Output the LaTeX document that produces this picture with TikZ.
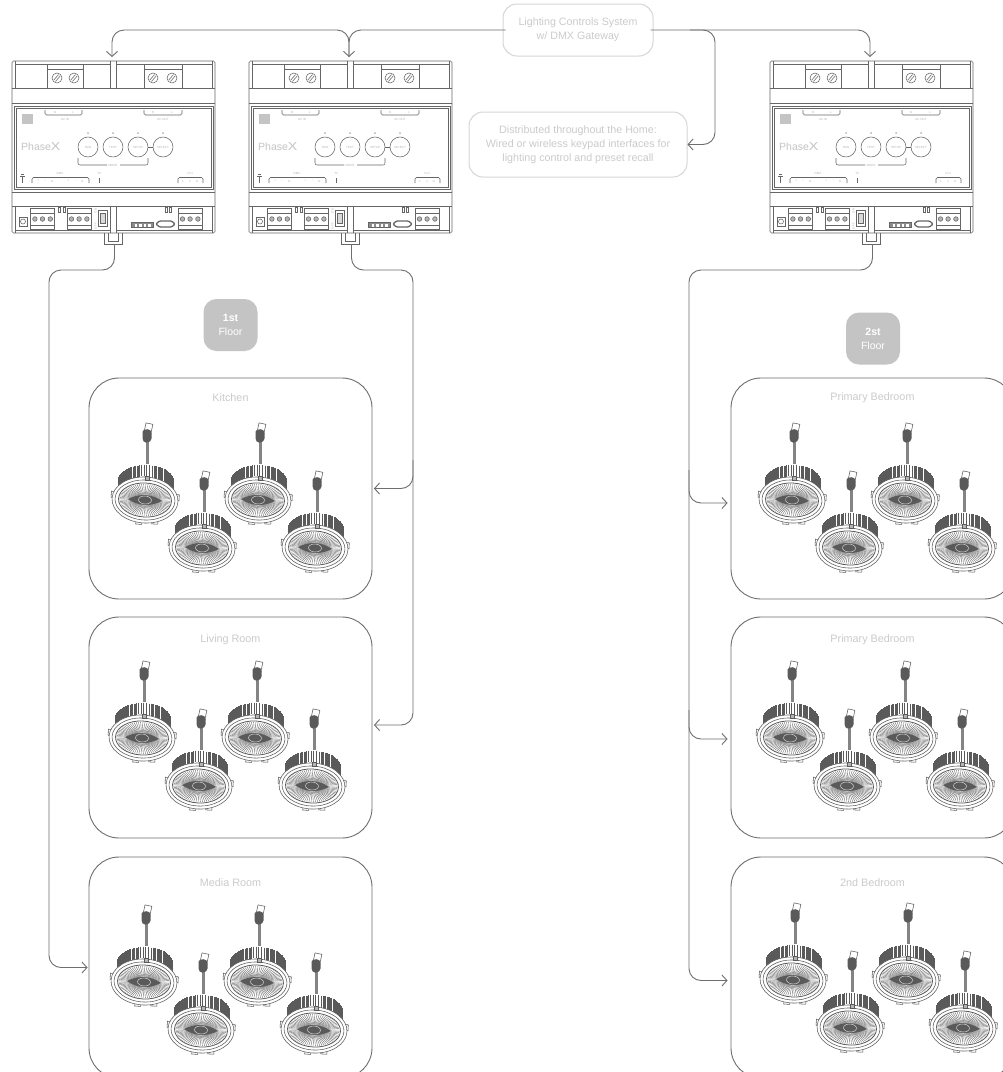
\documentclass[tikz,border=0pt]{standalone}
\usepackage{fontspec}
\setmainfont{Liberation Sans}
\usepackage{tikz}
\usetikzlibrary{positioning, arrows.meta, calc}
\definecolor{wirecol}{HTML}{6E6E6E}
\definecolor{paletxt}{HTML}{CBCBCB}
\definecolor{palebox}{HTML}{D6D6D6}
\definecolor{badgecol}{HTML}{C4C4C4}
\definecolor{devcol}{HTML}{666666}
\definecolor{devtxtcol}{HTML}{B4B4B4}
\definecolor{lampcol}{HTML}{5A5A5A}
\tikzset{
  wire/.style={draw=wirecol, line width=0.9pt, rounded corners=12pt},
  tipwire/.style={wire, -{Straight Barb[length=5pt, width=11pt]}},
  callout/.style={draw=palebox, line width=1pt, rounded corners=14pt, align=center, text=paletxt,
    font=\fontsize{10.7}{14}\selectfont, inner sep=0pt},
  roombox/.style={draw=wirecol, line width=0.9pt, rounded corners=30pt, minimum width=283pt,
    minimum height=221pt, inner sep=0pt},
  roomname/.style={text=paletxt, font=\fontsize{10.8}{12}\selectfont, inner sep=0pt},
  badge/.style={fill=badgecol, rounded corners=13pt, minimum width=54pt, minimum height=52pt,
    align=center, text=white, font=\fontsize{10.5}{14}\selectfont, inner sep=0pt},
  devline/.style={draw=devcol, line width=0.55pt},
  devtxt/.style={text=devtxtcol, font=\fontsize{3}{3}\selectfont, inner sep=0pt},
  lampline/.style={draw=lampcol, line width=0.55pt},
  pics/dimmer/.style={code={
    % housing
    \draw[devline, rounded corners=1.5pt] (0,0) rectangle (203,172);
    \draw[devline] (3,0) -- (3,27) (200,0) -- (200,27) (0,27) -- (203,27) (0,42) -- (203,42);
    \draw[devline] (98,0) -- (98,27) (104,0) -- (104,27) (0,131) -- (203,131) (0,145) -- (203,145);
    \draw[devline] (98,145) -- (98,172) (104,145) -- (104,172) (3,145) -- (3,172) (200,145) -- (200,172);
    \draw[devline] (3,3) -- (98,3) (104,3) -- (200,3) (3,169) -- (98,169) (104,169) -- (200,169);
    % top terminals
    \draw[devline] (35,3) -- (35,27) (71,3) -- (71,27) (132,3) -- (132,27) (170,3) -- (170,27);
    \draw[devline] (35,8) -- (71,8) (132,8) -- (170,8);
    \foreach \sx in {45,62,141,160} {
      \draw[devline] (\sx,17) circle (5pt);
      \draw[devline] (\sx-3.2,19) -- (\sx+1.5,13.6) (\sx-1.5,20.4) -- (\sx+3.2,15);
    }
    % front panel
    \draw[devline, line width=0.8pt] (2,45) rectangle (201,128);
    \draw[devline] (4,47) rectangle (199,126);
    \fill[badgecol] (10,53) rectangle (21,63);
    \node[text=badgecol, inner sep=0pt, font=\fontsize{10.5}{12}\selectfont, anchor=west] (-brand) at (9,86) {Phase\scalebox{1.35}[1.1]{X}};
    \draw[devline, rounded corners=1.5pt] (33,49) -- (33,54) -- (70,54) -- (70,49);
    \draw[devline, rounded corners=1.5pt] (132,49) -- (132,54) -- (170,54) -- (170,49);
    \node[devtxt] (-acin) at (53,58) {AC IN};
    \node[devtxt] (-acout) at (151,58) {AC OUT};
    \node[devtxt] (-n1) at (43,51) {N};
    \node[devtxt] (-l1) at (61,51) {L};
    \node[devtxt] (-n2) at (141,51) {N};
    \node[devtxt] (-l2) at (160,51) {L};
    \foreach \bx/\bname in {76/RUN,101/TEST,126/SETUP,151/SELECT} {
      \node[draw=devcol, line width=0.55pt, circle, minimum size=20pt, inner sep=0pt, text=devtxtcol,
        font=\fontsize{3}{3}\selectfont] (-\bname) at (\bx,86) {\bname};
      \fill[devtxtcol] (\bx,72) circle (1pt);
    }
    \draw[devline] (-SETUP) -- (-SELECT);
    \draw[devline, rounded corners=2pt] (66,97) -- (66,104) -- (95,104) (108,104) -- (136,104) -- (136,97);
    \node[devtxt] (-mode) at (101,104.5) {MODE};
    \draw[devcol, line width=1pt] (10.7,115) -- (10.7,122);
    \draw[devline] (8,115) -- (13.4,115) (9,113.5) -- (12.4,113.5);
    \draw[devline, rounded corners=1.5pt] (20,122) -- (20,116.5) -- (77,116.5) -- (77,122);
    \draw[devline, rounded corners=1.5pt] (166,122) -- (166,116.5) -- (191,116.5) -- (191,122);
    \node[devtxt] (-dmx) at (48,112) {DMX};
    \node[devtxt] (-tx) at (87.3,112) {TX};
    \node[devtxt] (-cci) at (178,112) {CCI};
    \draw[devline] (87.3,117) -- (87.3,122);
    \foreach \tx/\tname [count=\ti] in {26.3/+,33/−,40.3/G,56.3/+,63.7/−,70.3/G,171/1,178/2,185/G}
      \node[devtxt] (-pin\ti) at (\tx,120) {\tname};
    % bottom terminals
    \draw[devline] (7,156) rectangle (15,165);
    \draw[devline] (11,160.5) circle (2.5pt);
    \foreach \tx in {18.7,55.3,166.3} {
      \draw[devline] (\tx,147.5) rectangle (\tx+24,168);
      \draw[devline] (\tx,164) -- (\tx+24,164) (\tx,152) -- (\tx+24,152);
      \foreach \dx in {4.2,11.8,19.6}
        \draw[devline, fill=devtxtcol] (\tx+\dx,158) circle (2.3pt);
    }
    \foreach \sx in {46,51,153,157.5}
      \draw[devline] (\sx,146.5) rectangle (\sx+2.2,151.5);
    \draw[devline] (86.7,149.7) rectangle (95.3,165);
    \draw[devline, fill=devtxtcol!50] (88.7,152.5) rectangle (93.3,162);
    \node[devtxt, rotate=90] (-on) at (83.7,150) {ON};
    \node[devtxt, rotate=90] (-off) at (83.7,165) {OFF};
    \draw[devline, fill=devcol!75] (119.7,161.3) rectangle (141.3,166.7);
    \foreach \dx in {122.5,127,131.5,136}
      \fill[white] (\dx,162.5) rectangle (\dx+2.5,165.5);
    \draw[devcol, line width=1.3pt, rounded corners=1pt] (147.5,160) -- (159.5,160) -- (163,163) -- (159.5,166) -- (147.5,166) -- (144,163) -- cycle;
    % port under the housing
    \draw[devline] (92,172) -- (92,183) -- (110.7,183) -- (110.7,172);
    \draw[devline] (96.3,172) -- (96.3,180) -- (106.3,180) -- (106.3,172);
    \coordinate (-top) at (100,-4);
    \coordinate (-port) at (102.5,183);
  }},
  pics/lamp/.style={code={
    % cable and plug
    \draw[wirecol!85, line width=2.4pt] (2.3,-58) -- (2.3,-32);
    \draw[lampline, fill=white, rotate around={-12:(3.5,-72)}] (0,-76.5) rectangle (7,-66);
    \fill[lampcol, rounded corners=1.5pt] (-2.4,-70) -- (4,-71) -- (6.7,-68) -- (6.5,-60) -- (3.5,-57.5) -- (-0.5,-57.5) -- (-2.4,-60) -- cycle;
    % heat sink
    \begin{scope}[shift={(0.5,-20)}]
      \foreach \a in {180,183,...,360}
        \draw[lampcol, line width=0.65pt] (\a:27.5 and 15) -- ++(0,15);
      \fill[white] (-5,-16) rectangle (6,2);
      \foreach \fx in {-4,-1.5,1,3.5}
        \draw[lampcol, line width=0.4pt] (\fx,-15.5) -- (\fx,-4);
    \end{scope}
    \begin{scope}[rotate=-3]
      % ring
      \draw[lampline, fill=white] (-34,-7) rectangle (-29,-1);
      \draw[lampline, fill=white] (29,-7) rectangle (34,-1);
      \draw[lampline, fill=white] (-8,19) rectangle (-2,24.5);
      \draw[lampline, fill=white] (8,18) rectangle (14,23.5);
      \draw[lampline, fill=white] (0,0) ellipse [x radius=33, y radius=23];
      \draw[lampline] (0,0) ellipse [x radius=30, y radius=20];
      \draw[lampline, line width=0.8pt] (0,0) ellipse [x radius=26.5, y radius=17];
      \foreach \a in {0,5,...,355}
        \draw[wirecol, line width=0.4pt] (\a:25.5 and 16) -- (\a:5 and 3);
      \fill[lampcol] (-17,0) .. controls (-7,-6.5) and (7,-6.5) .. (17,0) .. controls (7,6.5) and (-7,6.5) .. (-17,0);
      \draw[white!75!lampcol, line width=0.5pt] (0,0) ellipse [x radius=6.5, y radius=4];
    \end{scope}
    \draw[lampline, fill=devtxtcol] (0,-24) rectangle (4.6,-20);
  }}
}
\begin{document}
\begin{tikzpicture}[x=1pt, y=-1pt]
\useasboundingbox (0,0) rectangle (1003,1072);
\clip (0,0) rectangle (1003,1072);
\fill[white] (0,0) rectangle (1003,1072);

% controllers
\pic (dimA) at (12,61) {dimmer};
\pic (dimB) at (249,61) {dimmer};
\pic (dimC) at (770,61) {dimmer};

% callouts
\node[callout, minimum width=150pt, minimum height=52pt] (ctrl) at (578,30) {Lighting Controls System\\w/ DMX Gateway};
\node[callout, minimum width=218pt, minimum height=65pt] (keypad) at (578,144.5) {Distributed throughout the Home:\\Wired or wireless keypad interfaces for\\lighting control and preset recall};

% floor badges
\node[badge] (floorA) at (230.5,325) {\textbf{1st}\\Floor};
\node[badge] (floorB) at (873,338.5) {\textbf{2st}\\Floor};

% rooms
\node[roombox] (kitchen) at (230.5,488.5) {};
\node[roombox] (living) at (230.5,727.5) {};
\node[roombox] (media) at (230.5,967.5) {};
\node[roombox] (primA) at (872.5,488.5) {};
\node[roombox] (primB) at (872.5,727.5) {};
\node[roombox] (bedB) at (872.5,967.5) {};
\node[roomname] (kitchenname) at (230.5,398) {Kitchen};
\node[roomname] (livingname) at (230.5,640) {Living Room};
\node[roomname] (medianame) at (230.5,883) {Media Room};
\node[roomname] (primAname) at (872.5,398) {Primary Bedroom};
\node[roomname] (primBname) at (872.5,640) {Primary Bedroom};
\node[roomname] (bedBname) at (872.5,883) {2nd Bedroom};

% fixtures
\foreach \bx/\by in {145/500, 142/738, 144/982, 792/500, 790/738, 793/980} {
  \begin{scope}[shift={(\bx,\by)}]
    \pic at (0,0) {lamp};
    \pic at (57,48) {lamp};
    \pic at (113,0) {lamp};
    \pic at (170,48) {lamp};
  \end{scope}
}

% bends
\coordinate (busAB) at (320,30);
\coordinate (busR) at (690,30);
\coordinate (busK) at (715,88);
\coordinate (busA) at (49,270);
\coordinate (busB) at (413,270);
\coordinate (busC) at (689,270);
\coordinate (tapK) at (413,460);
\coordinate (tapP) at (689,470);
\coordinate (tapQ) at (689,710);

% DMX from the gateway
\draw[tipwire] ([xshift=3pt]ctrl.west) -| (dimB-top);
\draw[tipwire] (busAB) -| (dimA-top);
\draw[wire] (busAB) -| (dimB-top);
\draw[tipwire] ([xshift=-3pt]ctrl.east) -| (dimC-top);
\draw[tipwire] (busR) -| (busK) |- (keypad.east);

% 1st floor runs
\draw[tipwire, shorten >=1pt] (dimA-port) |- (busA) |- (media.west);
\draw[tipwire, shorten >=1.5pt] (dimB-port) |- (busB) |- ([yshift=2.5pt]living.east);
\draw[tipwire, shorten >=1.5pt] (tapK) |- (kitchen.east);

% 2nd floor runs
\draw[tipwire, shorten >=3pt] (dimC-port) |- (busC) |- ([yshift=-13pt]bedB.west);
\draw[tipwire, shorten >=3pt] (tapP) |- ([yshift=-14.5pt]primA.west);
\draw[tipwire, shorten >=3pt] (tapQ) |- ([yshift=-11.5pt]primB.west);
\end{tikzpicture}
\end{document}
